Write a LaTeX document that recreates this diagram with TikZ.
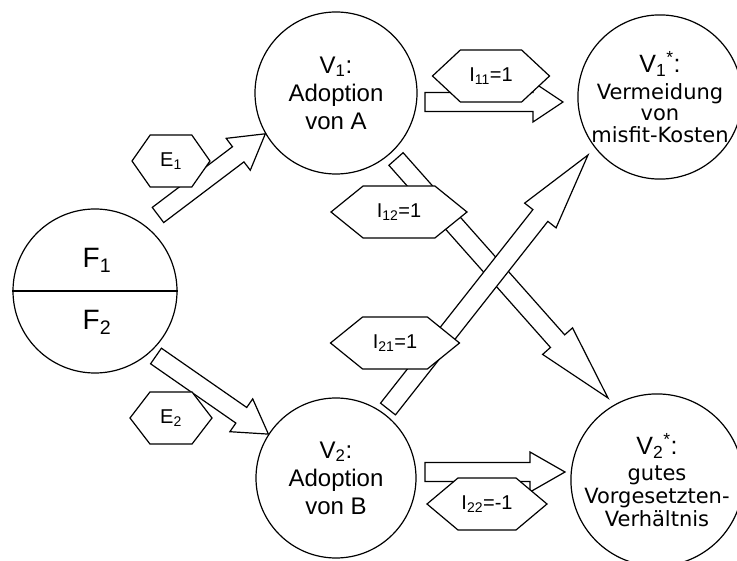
\documentclass[tikz,border=0pt]{standalone}
\usepackage{fontspec}
\setmainfont{Liberation Sans}
\newfontfamily\dejavu{DejaVu Sans}
\usetikzlibrary{calc,shapes.symbols}

% block arrow from #2 to #3, head length #1
\newcommand{\blockarr}[3][32]{%
  \coordinate (hb) at ($(#3)!#1pt!(#2)$);
  \draw[barrow] ($(#2)!9.5pt!90:(#3)$) -- ($(hb)!9.5pt!90:(#3)$) -- ($(hb)!20pt!90:(#3)$)
    -- (#3) -- ($(hb)!20pt!-90:(#3)$) -- ($(hb)!9.5pt!-90:(#3)$) -- ($(#2)!9.5pt!-90:(#3)$) -- cycle;}

\begin{document}
\begin{tikzpicture}[x=1pt,y=-1pt,line width=1.2pt,
  circ/.style={circle,draw,fill=white,minimum size=#1,inner sep=0pt,align=center},
  hexlab/.style={shape=signal,signal to=east and west,draw,fill=white,minimum height=52pt,
    inner sep=0pt,font=\fontsize{20}{20}\selectfont},
  barrow/.style={draw,fill=white,line join=miter}]
  \useasboundingbox (0,0) rectangle (737,561);

  %kreise
  \node[circ=164] (F) at (95,291) {};
  \draw (F.west) -- (F.east);
  \node[font=\fontsize{28}{28}\selectfont] (F1) at (97,260) {F\textsubscript{1}};
  \node[font=\fontsize{28}{28}\selectfont] (F2) at (97,322) {F\textsubscript{2}};

  \node[circ=162,font=\fontsize{24}{28}\selectfont] (V1) at (336,93) {V\textsubscript{1}:\\Adoption\\von A};
  \node[circ=160,font=\fontsize{24}{28}\selectfont] (V2) at (336,478) {V\textsubscript{2}:\\Adoption\\von B};
  \node[circ=153,font=\dejavu\fontsize{21}{21.5}\selectfont] (V1s) at (660,97)
    {{\rmfamily\fontsize{25}{25}\selectfont V\textsubscript{1}\textsuperscript{*}:}\\[5pt]Vermeidung\\von\\misfit-Kosten};
  \node[circ=155,font=\dejavu\fontsize{21}{23}\selectfont] (V2s) at (657,480)
    {{\rmfamily\fontsize{25}{25}\selectfont V\textsubscript{2}\textsuperscript{*}:}\\[3pt]gutes\\Vorgesetzten-\\Verhältnis};

  %pfeilenden
  \coordinate (e1) at (158,215);
  \coordinate (e2) at (156,356);
  \coordinate (a11) at (425,102);
  \coordinate (b11) at (563,102);
  \coordinate (a22) at (425,472);
  \coordinate (b22) at (565,472);
  \coordinate (a12) at (396,159);
  \coordinate (b12) at (608,398);
  \coordinate (a21) at (388,409);
  \coordinate (b21) at (588,155);

  %pfeile
  \blockarr[34]{e1}{V1.210}
  \blockarr[33]{e2}{V2.147}
  \blockarr[30]{a11}{b11}
  \blockarr[35]{a22}{b22}
  \blockarr[76]{a12}{b12}
  \blockarr[77]{a21}{b21}

  %beschriftung
  \node[hexlab,minimum width=78pt,signal pointer angle=110] (E1) at (171,161) {E\textsubscript{1}};
  \node[hexlab,minimum width=82pt,signal pointer angle=105] (E2) at (171,418) {E\textsubscript{2}};
  \node[hexlab,minimum width=117pt,signal pointer angle=86] (I11) at (491,76) {I\textsubscript{11}=1};
  \node[hexlab,minimum width=136pt,signal pointer angle=78] (I12) at (399,212) {I\textsubscript{12}=1};
  \node[hexlab,minimum width=129pt,signal pointer angle=78] (I21) at (395,343) {I\textsubscript{21}=1};
  \node[hexlab,minimum width=120pt,signal pointer angle=80] (I22) at (487,504) {I\textsubscript{22}=-1};
\end{tikzpicture}
\end{document}
